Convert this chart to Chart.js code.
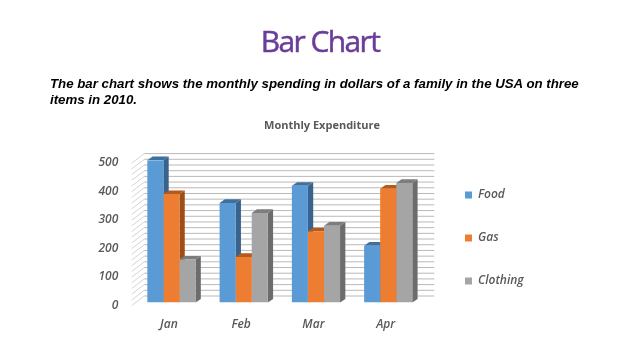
<!DOCTYPE html>
<html><head><meta charset="utf-8">
<script src="https://cdn.jsdelivr.net/npm/chart.js@4"></script>
<style>
html,body{margin:0;padding:0;background:#fff;width:638px;height:359px;overflow:hidden}
#wrap{position:relative;width:638px;height:359px}
#h{position:absolute;left:0;width:640px;top:21px;text-align:center;font:400 30px/40px "Open Sans",sans-serif;color:#6a3d9a;letter-spacing:-1.6px;-webkit-text-stroke:.5px #6a3d9a}
#p{position:absolute;left:50px;top:76px;width:545px;font:italic bold 13.27px/16px "Liberation Sans",sans-serif;color:#000}
canvas{position:absolute;left:0;top:0}
</style></head><body>
<div id="wrap">
<canvas id="c" width="638" height="359"></canvas>
<div id="h">Bar Chart</div>
<div id="p">The bar chart shows the monthly spending in dollars of a family in the USA on three items in 2010.</div>
</div>
<script>
const categories=["Jan","Feb","Mar","Apr"];
const food=[500,350,410,200];
const gas=[381,160,250,400];
const clothing=[151,315,270,420];
const seriesNames=["Food","Gas","Clothing"];
const frontColors=["#5b9bd5","#ed7d31","#a5a5a5"];
const topColors=["#3f6f9c","#b5591d","#7d7d7d"];
const sideColors=["#38638c","#a04e18","#6c6c6c"];
const chartTitle="Monthly Expenditure";
const textGrey="#595959";
const DX=5.3,DY=3.7;

const threeD={
 id:"threeD",
 afterLayout(chart){
  const l=chart.legend;
  l.left=434;
  l.right=l.left+l.width;
  const h=l.bottom-l.top;
  l.top=238-h/2;
  l.bottom=l.top+h;
  chart.titleBlock.left=6;
  chart.titleBlock.right=638;
 },
 beforeDatasetsDraw(chart){
  const c=chart.ctx,y=chart.scales.y,a=chart.chartArea;
  const fl=a.left-3.6,bl=a.left+9,br=a.right+10;
  c.save();
  c.lineWidth=1;
  y.ticks.forEach(t=>{
    const py=y.getPixelForValue(t.value);
    c.strokeStyle="#d4d4d4";
    c.beginPath();c.moveTo(fl,py+3);c.lineTo(bl,py-6.6);c.stroke();
    c.strokeStyle="#b9b9b9";
    c.beginPath();c.moveTo(bl,py-6.6);c.lineTo(br,py-6.6);c.stroke();
  });
  chart.data.datasets.forEach((d,i)=>{
    chart.getDatasetMeta(i).data.forEach(b=>{
      const p=b.getProps(["x","y","base","width"],true);
      const L=p.x-p.width/2,R=p.x+p.width/2;
      c.fillStyle=sideColors[i];
      c.beginPath();c.moveTo(R,p.y);c.lineTo(R+DX,p.y-DY);c.lineTo(R+DX,p.base-DY);c.lineTo(R,p.base);c.closePath();c.fill();
      c.fillStyle=topColors[i];
      c.beginPath();c.moveTo(L,p.y);c.lineTo(L+DX,p.y-DY);c.lineTo(R+DX,p.y-DY);c.lineTo(R,p.y);c.closePath();c.fill();
    });
  });
  c.restore();
 }
};

const labelFont={family:"Open Sans",size:12,style:"italic",weight:"600"};
new Chart(document.getElementById("c"),{
 type:"bar",
 data:{labels:categories,datasets:[
  {label:seriesNames[0],data:food,backgroundColor:frontColors[0]},
  {label:seriesNames[1],data:gas,backgroundColor:frontColors[1]},
  {label:seriesNames[2],data:clothing,backgroundColor:frontColors[2]}
 ]},
 plugins:[threeD],
 options:{
  responsive:false,animation:false,
  datasets:{bar:{categoryPercentage:0.667,barPercentage:1,borderWidth:0}},
  layout:{padding:{left:60,right:114,bottom:21,top:0}},
  plugins:{
   tooltip:{enabled:false},
   title:{display:true,text:chartTitle,color:textGrey,font:{family:"Open Sans",size:11,weight:"bold"},padding:{top:119,bottom:28}},
   legend:{position:"right",align:"center",labels:{boxWidth:7,boxHeight:7,padding:31,color:textGrey,font:labelFont}}
  },
  scales:{
   x:{grid:{display:false},border:{display:false},ticks:{color:textGrey,padding:6.5,labelOffset:-2.5,font:labelFont}},
   y:{min:0,max:500,grid:{display:false},border:{display:false},
      afterFit(s){s.width=75.3;},
      ticks:{stepSize:20,autoSkip:false,color:textGrey,padding:9,labelOffset:2.5,
        callback:v=>v%100===0?String(v):"",
        font:labelFont}}
  }
 }
});
</script>
</body></html>
